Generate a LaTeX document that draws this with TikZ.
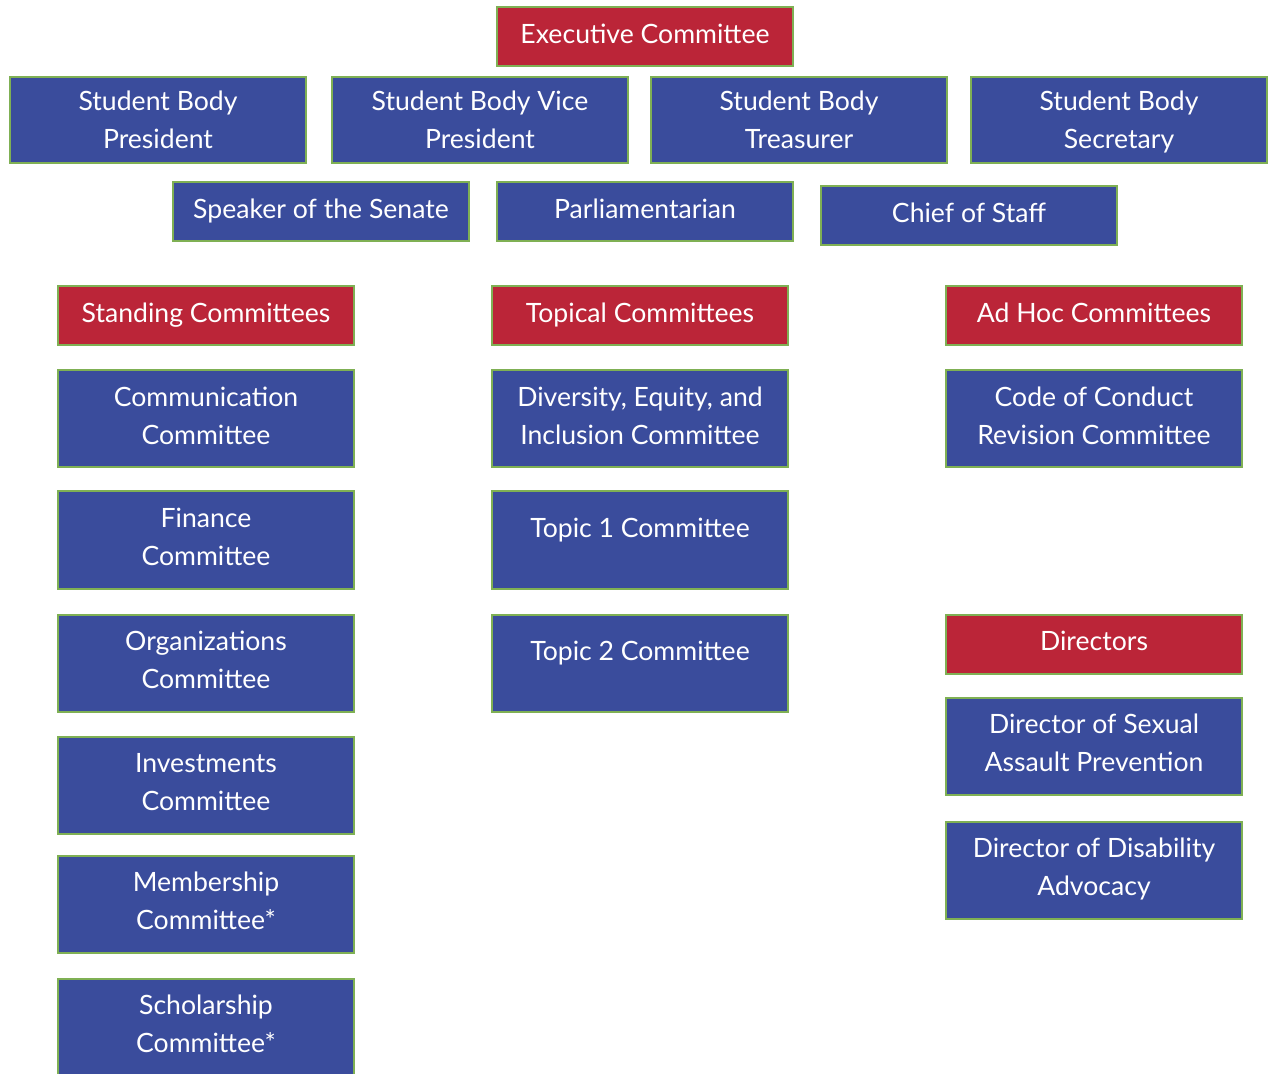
\documentclass[tikz,border=0pt]{standalone}
\usepackage{fontspec}
\setmainfont{Lato}
\usetikzlibrary{positioning}
\definecolor{boxblue}{RGB}{58,76,156}
\definecolor{boxred}{RGB}{187,37,56}
\definecolor{boxgreen}{RGB}{127,176,84}
\begin{document}
\begin{tikzpicture}[x=0.5pt,y=-0.5pt,
  box/.style={draw=boxgreen,line width=1pt,inner sep=0pt,align=center,
    text=white,font=\fontsize{13.3}{19}\selectfont,minimum width=148pt,
    text depth=3pt},
  bluebox/.style={box,fill=boxblue},
  redbox/.style={box,fill=boxred},
  tall/.style={minimum height=48.5pt},
  short/.style={minimum height=29.5pt},
  officer/.style={bluebox,minimum height=43pt,text depth=0pt},
  topic/.style={text depth=12pt}]
\useasboundingbox (0,0) rectangle (1268,1074);
\clip (0,0) rectangle (1268,1074);
\node[redbox,short] (exec) at (645,37) {Executive Committee};
%
\node[officer] (pres) at (158,120) {Student Body\\President};
\node[officer] (vice) at (480,120) {Student Body Vice\\President};
\node[officer] (treas) at (799,120) {Student Body\\Treasurer};
\node[officer] (secr) at (1119,120) {Student Body\\Secretary};
%
\node[bluebox,short] (speaker) at (321,212) {Speaker of the Senate};
\node[bluebox,short] (parl) at (645,212) {Parliamentarian};
\node[bluebox,short] (chief) at (969,216) {Chief of Staff};
%
\node[redbox,short] (standing) at (206,316) {Standing Committees};
\node[redbox,short] (topical) at (640,316) {Topical Committees};
\node[redbox,short] (adhoc) at (1094,316) {Ad Hoc Committees};
%
\node[bluebox,tall] (comm) at (206,419) {Communication\\Committee};
\node[bluebox,tall] (finance) at (206,540) {Finance\\Committee};
\node[bluebox,tall] (orgs) at (206,663) {Organizations\\Committee};
\node[bluebox,tall] (invest) at (206,785) {Investments\\Committee};
\node[bluebox,tall] (member) at (206,904) {Membership\\Committee*};
\node[bluebox,tall] (scholar) at (206,1027) {Scholarship\\Committee*};
%
\node[bluebox,tall] (dei) at (640,419) {Diversity, Equity, and\\Inclusion Committee};
\node[bluebox,tall,topic] (topicA) at (640,540) {Topic 1 Committee};
\node[bluebox,tall,topic] (topicB) at (640,663) {Topic 2 Committee};
%
\node[bluebox,tall] (conduct) at (1094,419) {Code of Conduct\\Revision Committee};
\node[redbox,short] (dirs) at (1094,644) {Directors};
\node[bluebox,tall] (sexual) at (1094,746) {Director of Sexual\\Assault Prevention};
\node[bluebox,tall] (disab) at (1094,870) {Director of Disability\\Advocacy};
\end{tikzpicture}
\end{document}
